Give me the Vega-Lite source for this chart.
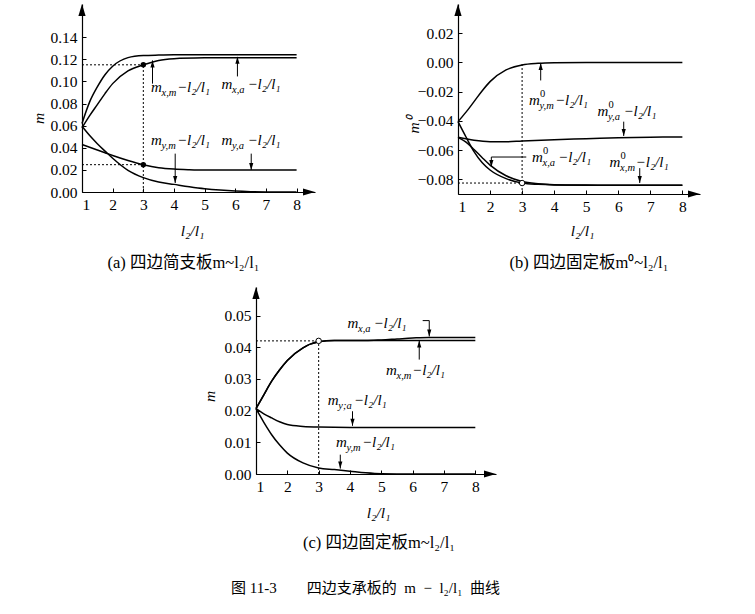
{
  "$schema": "https://vega.github.io/schema/vega-lite/v6.json",
  "background": "white",
  "padding": {"left": 31, "top": 4, "right": 5, "bottom": 5},
  "bounds": "full",
  "spacing": 13,
  "title": {"text": "图 11-3\u2003\u2003四边支承板的\u2002m\u2002−\u2002l₂/l₁\u2002曲线", "orient": "bottom", "anchor": "middle", "offset": 30, "font": "Liberation Serif, Noto Sans CJK SC", "fontSize": 15, "fontWeight": "normal", "color": "black"},
  "datasets": {
    "curves": [
      {"p":"a","s":"A","x":1,"y":0.062},{"p":"a","s":"A","x":1.25,"y":0.0815},{"p":"a","s":"A","x":1.5,"y":0.095},{"p":"a","s":"A","x":1.75,"y":0.106},{"p":"a","s":"A","x":2,"y":0.1137},{"p":"a","s":"A","x":2.5,"y":0.1215},{"p":"a","s":"A","x":3,"y":0.1234},{"p":"a","s":"A","x":3.5,"y":0.1238},{"p":"a","s":"A","x":4,"y":0.124},{"p":"a","s":"A","x":5,"y":0.124},{"p":"a","s":"A","x":6,"y":0.124},{"p":"a","s":"A","x":7,"y":0.124},{"p":"a","s":"A","x":8,"y":0.124},
      {"p":"a","s":"B","x":1,"y":0.058},{"p":"a","s":"B","x":1.25,"y":0.069},{"p":"a","s":"B","x":1.5,"y":0.079},{"p":"a","s":"B","x":1.75,"y":0.089},{"p":"a","s":"B","x":2,"y":0.098},{"p":"a","s":"B","x":2.5,"y":0.1095},{"p":"a","s":"B","x":3,"y":0.115},{"p":"a","s":"B","x":3.5,"y":0.119},{"p":"a","s":"B","x":4,"y":0.1205},{"p":"a","s":"B","x":5,"y":0.1213},{"p":"a","s":"B","x":6,"y":0.1215},{"p":"a","s":"B","x":7,"y":0.1215},{"p":"a","s":"B","x":8,"y":0.1215},
      {"p":"a","s":"C","x":1,"y":0.0594},{"p":"a","s":"C","x":1.25,"y":0.051},{"p":"a","s":"C","x":1.5,"y":0.0437},{"p":"a","s":"C","x":1.75,"y":0.037},{"p":"a","s":"C","x":2,"y":0.0305},{"p":"a","s":"C","x":2.5,"y":0.0196},{"p":"a","s":"C","x":3,"y":0.013},{"p":"a","s":"C","x":3.5,"y":0.009},{"p":"a","s":"C","x":4,"y":0.0069},{"p":"a","s":"C","x":4.5,"y":0.0048},{"p":"a","s":"C","x":5,"y":0.003},{"p":"a","s":"C","x":5.5,"y":0.0017},{"p":"a","s":"C","x":6,"y":0.0008},{"p":"a","s":"C","x":6.5,"y":0.0003},{"p":"a","s":"C","x":7,"y":0.0001},{"p":"a","s":"C","x":8,"y":0},
      {"p":"a","s":"D","x":1,"y":0.043},{"p":"a","s":"D","x":1.5,"y":0.038},{"p":"a","s":"D","x":1.75,"y":0.0355},{"p":"a","s":"D","x":2,"y":0.033},{"p":"a","s":"D","x":2.5,"y":0.0285},{"p":"a","s":"D","x":3,"y":0.0247},{"p":"a","s":"D","x":3.5,"y":0.022},{"p":"a","s":"D","x":4,"y":0.0207},{"p":"a","s":"D","x":4.5,"y":0.0201},{"p":"a","s":"D","x":5,"y":0.0198},{"p":"a","s":"D","x":6,"y":0.0198},{"p":"a","s":"D","x":7,"y":0.0198},{"p":"a","s":"D","x":8,"y":0.0198},
      {"p":"b","s":"Ym","x":1,"y":-0.0405},{"p":"b","s":"Ym","x":1.25,"y":-0.034},{"p":"b","s":"Ym","x":1.5,"y":-0.0268},{"p":"b","s":"Ym","x":1.75,"y":-0.0195},{"p":"b","s":"Ym","x":2,"y":-0.0131},{"p":"b","s":"Ym","x":2.5,"y":-0.0051},{"p":"b","s":"Ym","x":3,"y":-0.0017},{"p":"b","s":"Ym","x":3.5,"y":-0.0006},{"p":"b","s":"Ym","x":4,"y":-0.0002},{"p":"b","s":"Ym","x":5,"y":0},{"p":"b","s":"Ym","x":6,"y":0},{"p":"b","s":"Ym","x":7,"y":0},{"p":"b","s":"Ym","x":8,"y":0},
      {"p":"b","s":"Ya","x":1,"y":-0.0512},{"p":"b","s":"Ya","x":1.5,"y":-0.0532},{"p":"b","s":"Ya","x":2,"y":-0.0542},{"p":"b","s":"Ya","x":2.5,"y":-0.0543},{"p":"b","s":"Ya","x":3,"y":-0.0537},{"p":"b","s":"Ya","x":4,"y":-0.0528},{"p":"b","s":"Ya","x":5,"y":-0.0522},{"p":"b","s":"Ya","x":6,"y":-0.0515},{"p":"b","s":"Ya","x":7,"y":-0.0511},{"p":"b","s":"Ya","x":8,"y":-0.051},
      {"p":"b","s":"E","x":1,"y":-0.0405},{"p":"b","s":"E","x":1.25,"y":-0.051},{"p":"b","s":"E","x":1.5,"y":-0.061},{"p":"b","s":"E","x":1.75,"y":-0.0685},{"p":"b","s":"E","x":2,"y":-0.0736},{"p":"b","s":"E","x":2.5,"y":-0.0795},{"p":"b","s":"E","x":3,"y":-0.0825},{"p":"b","s":"E","x":3.5,"y":-0.0834},{"p":"b","s":"E","x":4,"y":-0.0838},{"p":"b","s":"E","x":5,"y":-0.084},{"p":"b","s":"E","x":6,"y":-0.084},{"p":"b","s":"E","x":7,"y":-0.084},{"p":"b","s":"E","x":8,"y":-0.084},
      {"p":"b","s":"F","x":1,"y":-0.0512},{"p":"b","s":"F","x":1.25,"y":-0.0545},{"p":"b","s":"F","x":1.5,"y":-0.0595},{"p":"b","s":"F","x":1.75,"y":-0.065},{"p":"b","s":"F","x":2,"y":-0.0702},{"p":"b","s":"F","x":2.5,"y":-0.0775},{"p":"b","s":"F","x":3,"y":-0.0815},{"p":"b","s":"F","x":3.5,"y":-0.083},{"p":"b","s":"F","x":4,"y":-0.0836},{"p":"b","s":"F","x":5,"y":-0.0839},{"p":"b","s":"F","x":6,"y":-0.084},{"p":"b","s":"F","x":7,"y":-0.084},{"p":"b","s":"F","x":8,"y":-0.084},
      {"p":"c","s":"Xm","x":1,"y":0.0206},{"p":"c","s":"Xm","x":1.25,"y":0.025},{"p":"c","s":"Xm","x":1.5,"y":0.0293},{"p":"c","s":"Xm","x":1.75,"y":0.0328},{"p":"c","s":"Xm","x":2,"y":0.0358},{"p":"c","s":"Xm","x":2.5,"y":0.0398},{"p":"c","s":"Xm","x":3,"y":0.0417},{"p":"c","s":"Xm","x":3.5,"y":0.0421},{"p":"c","s":"Xm","x":4,"y":0.0421},{"p":"c","s":"Xm","x":5,"y":0.0421},{"p":"c","s":"Xm","x":6,"y":0.0421},{"p":"c","s":"Xm","x":7,"y":0.0421},{"p":"c","s":"Xm","x":8,"y":0.0421},
      {"p":"c","s":"Xa","x":1,"y":0.0206},{"p":"c","s":"Xa","x":1.25,"y":0.025},{"p":"c","s":"Xa","x":1.5,"y":0.0293},{"p":"c","s":"Xa","x":1.75,"y":0.0328},{"p":"c","s":"Xa","x":2,"y":0.0358},{"p":"c","s":"Xa","x":2.5,"y":0.0398},{"p":"c","s":"Xa","x":3,"y":0.0417},{"p":"c","s":"Xa","x":3.5,"y":0.0421},{"p":"c","s":"Xa","x":4,"y":0.0421},{"p":"c","s":"Xa","x":4.5,"y":0.0421},{"p":"c","s":"Xa","x":5,"y":0.0423},{"p":"c","s":"Xa","x":5.5,"y":0.0426},{"p":"c","s":"Xa","x":6,"y":0.0429},{"p":"c","s":"Xa","x":6.5,"y":0.0431},{"p":"c","s":"Xa","x":7,"y":0.0431},{"p":"c","s":"Xa","x":8,"y":0.0431},
      {"p":"c","s":"Ya","x":1,"y":0.0206},{"p":"c","s":"Ya","x":1.25,"y":0.019},{"p":"c","s":"Ya","x":1.5,"y":0.0177},{"p":"c","s":"Ya","x":1.75,"y":0.0165},{"p":"c","s":"Ya","x":2,"y":0.0156},{"p":"c","s":"Ya","x":2.5,"y":0.015},{"p":"c","s":"Ya","x":3,"y":0.0148},{"p":"c","s":"Ya","x":4,"y":0.0147},{"p":"c","s":"Ya","x":5,"y":0.0147},{"p":"c","s":"Ya","x":6,"y":0.0147},{"p":"c","s":"Ya","x":7,"y":0.0147},{"p":"c","s":"Ya","x":8,"y":0.0147},
      {"p":"c","s":"Ym","x":1,"y":0.0206},{"p":"c","s":"Ym","x":1.25,"y":0.0163},{"p":"c","s":"Ym","x":1.5,"y":0.0124},{"p":"c","s":"Ym","x":1.75,"y":0.0092},{"p":"c","s":"Ym","x":2,"y":0.0066},{"p":"c","s":"Ym","x":2.5,"y":0.0035},{"p":"c","s":"Ym","x":3,"y":0.0019},{"p":"c","s":"Ym","x":3.5,"y":0.0014},{"p":"c","s":"Ym","x":4,"y":0.0009},{"p":"c","s":"Ym","x":4.5,"y":0.0004},{"p":"c","s":"Ym","x":5,"y":0.0001},{"p":"c","s":"Ym","x":6,"y":0},{"p":"c","s":"Ym","x":7,"y":0},{"p":"c","s":"Ym","x":8,"y":0}
    ],
    "guides": [
      {"p":"a","x":3,"x2":3,"y":0,"y2":0.115},{"p":"a","x":1,"x2":3,"y":0.115,"y2":0.115},{"p":"a","x":1,"x2":3,"y":0.0247,"y2":0.0247},
      {"p":"b","x":3,"x2":3,"y":-0.09,"y2":0},{"p":"b","x":1,"x2":3,"y":-0.0825,"y2":-0.0825},
      {"p":"c","x":3,"x2":3,"y":0,"y2":0.042},{"p":"c","x":1,"x2":3,"y":0.042,"y2":0.042}
    ],
    "dots": [
      {"p":"a","x":3,"y":0.115},{"p":"a","x":3,"y":0.0247},
      {"p":"b","x":3,"y":-0.0825},
      {"p":"c","x":3,"y":0.042}
    ],
    "notes": [
      {"p":"a","x":3.25,"y":0.0905,"sub":"x,m"},{"p":"a","x":5.55,"y":0.0927,"sub":"x,a"},{"p":"a","x":3.25,"y":0.0423,"sub":"y,m"},{"p":"a","x":5.55,"y":0.0423,"sub":"y,a"},
      {"p":"b","x":3.215,"y":-0.0291,"sub":"y,m"},{"p":"b","x":5.35,"y":-0.0364,"sub":"y,a"},{"p":"b","x":3.31,"y":-0.0684,"sub":"x,a"},{"p":"b","x":5.73,"y":-0.0718,"sub":"x,m"},
      {"p":"c","x":3.92,"y":0.0461,"sub":"x,a"},{"p":"c","x":5.15,"y":0.0312,"sub":"x,m"},{"p":"c","x":3.29,"y":0.0217,"sub":"y;a"},{"p":"c","x":3.55,"y":0.0085,"sub":"y,m"}
    ],
    "arrows": [
      {"p":"a","x":3.3,"yt":0.098,"y":0.119,"dir":"up"},{"p":"a","x":6.07,"yt":0.1045,"y":0.1222,"dir":"up"},{"p":"a","x":4.04,"yt":0.0347,"y":0.0081,"dir":"down"},{"p":"a","x":6.52,"yt":0.0347,"y":0.02,"dir":"down"},
      {"p":"b","x":3.58,"yt":-0.0123,"y":-0.0003,"dir":"up"},{"p":"b","x":6.17,"yt":-0.0405,"y":-0.0503,"dir":"down"},{"p":"b","x":2.04,"yt":-0.0647,"y":-0.0715,"dir":"down"},{"p":"b","x":6.67,"yt":-0.0723,"y":-0.0825,"dir":"down"},
      {"p":"c","x":6.53,"yt":0.0484,"y":0.0434,"dir":"down"},{"p":"c","x":6.21,"yt":0.0361,"y":0.0421,"dir":"up"},{"p":"c","x":4.08,"yt":0.0198,"y":0.0152,"dir":"down"},{"p":"c","x":3.69,"yt":0.0061,"y":0.0017,"dir":"down"}
    ],
    "leaders": [
      {"p":"b","x":2.04,"x2":3.13,"y":-0.0647},
      {"p":"c","x":6.32,"x2":6.53,"y":0.0484}
    ],
    "axisArrows": [
      {"p":"a","x":8.6,"y":0,"dir":"right"},{"p":"a","x":1,"y":0.17,"dir":"up"},
      {"p":"b","x":8.55,"y":-0.09,"dir":"right"},{"p":"b","x":1,"y":0.04,"dir":"up"},
      {"p":"c","x":8.66,"y":0,"dir":"right"},{"p":"c","x":1,"y":0.059,"dir":"up"}
    ]
  },
  "vconcat": [
    {
      "bounds": "flush",
      "spacing": 143,
      "hconcat": [
        {
          "width": 233, "height": 188,
          "title": {"text": "(a) 四边简支板m~l₂/l₁", "orient": "bottom", "dx": -15, "offset": 16},
          "encoding": {
            "x": {"field": "x", "type": "quantitative", "scale": {"domain": [1, 8.6], "nice": false, "zero": false}, "axis": {"values": [1,2,3,4,5,6,7,8], "format": "d", "title": "l₂/l₁", "titleX": 110, "titleY": 43, "titleBaseline": "alphabetic"}},
            "y": {"field": "y", "type": "quantitative", "scale": {"domain": [0, 0.17], "nice": false, "zero": false}, "axis": {"values": [0,0.02,0.04,0.06,0.08,0.1,0.12,0.14], "format": ".2f", "title": "m", "titleX": -44, "titleY": 114, "titleBaseline": "middle"}}
          },
          "layer": [
            {"data": {"name": "curves"}, "transform": [{"filter": "datum.p === 'a'"}],
             "mark": {"type": "line", "interpolate": "monotone", "color": "black", "strokeWidth": 1.5},
             "encoding": {"detail": {"field": "s"}}},
            {"data": {"name": "guides"}, "transform": [{"filter": "datum.p === 'a'"}],
             "mark": {"type": "rule", "color": "black", "strokeWidth": 1, "strokeDash": [2, 2]},
             "encoding": {"x2": {"field": "x2"}, "y2": {"field": "y2"}}},
            {"data": {"name": "dots"}, "transform": [{"filter": "datum.p === 'a'"}],
             "mark": {"type": "point", "filled": true, "color": "black", "size": 30, "opacity": 1},
             "encoding": {}},
            {"data": {"name": "arrows"}, "transform": [{"filter": "datum.p === 'a'"}],
             "mark": {"type": "rule", "color": "black", "strokeWidth": 1},
             "encoding": {"y2": {"field": "yt"}}},
            {"data": {"name": "arrows"}, "transform": [{"filter": "datum.p === 'a'"}],
             "mark": {"type": "point", "filled": true, "color": "black", "size": 196, "opacity": 1, "strokeWidth": 0},
             "encoding": {"shape": {"field": "dir", "type": "nominal", "legend": null, "scale": {"domain": ["up", "down", "right"], "range": ["M0,0L-0.3,1L0.3,1Z", "M0,0L-0.3,-1L0.3,-1Z", "M0,0L-1,-0.3L-1,0.3Z"]}}}},
            {"data": {"name": "axisArrows"}, "transform": [{"filter": "datum.p === 'a'"}],
             "mark": {"type": "point", "filled": true, "color": "black", "size": 576, "opacity": 1, "strokeWidth": 0, "clip": false},
             "encoding": {"shape": {"field": "dir", "type": "nominal", "legend": null, "scale": {"domain": ["up", "down", "right"], "range": ["M0,0L-0.3,1L0.3,1Z", "M0,0L-0.3,-1L0.3,-1Z", "M0,0L-1,-0.3L-1,0.3Z"]}}}},
            {"data": {"name": "notes"}, "transform": [{"filter": "datum.p === 'a'"}],
             "mark": {"type": "text", "text": "m", "align": "left", "baseline": "alphabetic", "font": "Liberation Serif", "fontStyle": "italic", "fontSize": 15, "color": "black"},
             "encoding": {}},
            {"data": {"name": "notes"}, "transform": [{"filter": "datum.p === 'a'"}],
             "mark": {"type": "text", "align": "left", "baseline": "alphabetic", "font": "Liberation Serif", "fontStyle": "italic", "fontSize": 10.5, "dx": 10.5, "dy": 4, "color": "black"},
             "encoding": {"text": {"field": "sub"}}},
            {"data": {"name": "notes"}, "transform": [{"filter": "datum.p === 'a'"}],
             "mark": {"type": "text", "text": "−l₂/l₁", "align": "left", "baseline": "alphabetic", "font": "Liberation Serif", "fontStyle": "italic", "fontSize": 15, "dx": 26, "color": "black"},
             "encoding": {}}
          ]
        },
        {
          "width": 242, "height": 190,
          "title": {"text": "(b) 四边固定板m⁰~l₂/l₁", "orient": "bottom", "dx": 10, "offset": 16},
          "encoding": {
            "x": {"field": "x", "type": "quantitative", "scale": {"domain": [1, 8.55], "nice": false, "zero": false}, "axis": {"values": [1,2,3,4,5,6,7,8], "format": "d", "title": "l₂/l₁", "titleX": 124, "titleY": 41, "titleBaseline": "alphabetic"}},
            "y": {"field": "y", "type": "quantitative", "scale": {"domain": [-0.09, 0.04], "nice": false, "zero": false}, "axis": {"values": [-0.08,-0.06,-0.04,-0.02,0,0.02], "format": ".2f", "title": "m⁰", "titleX": -45, "titleY": 121, "titleBaseline": "middle"}}
          },
          "layer": [
            {"data": {"name": "curves"}, "transform": [{"filter": "datum.p === 'b'"}],
             "mark": {"type": "line", "interpolate": "monotone", "color": "black", "strokeWidth": 1.5},
             "encoding": {"detail": {"field": "s"}}},
            {"data": {"name": "guides"}, "transform": [{"filter": "datum.p === 'b'"}],
             "mark": {"type": "rule", "color": "black", "strokeWidth": 1, "strokeDash": [2, 2]},
             "encoding": {"x2": {"field": "x2"}, "y2": {"field": "y2"}}},
            {"data": {"name": "leaders"}, "transform": [{"filter": "datum.p === 'b'"}],
             "mark": {"type": "rule", "color": "black", "strokeWidth": 1},
             "encoding": {"x2": {"field": "x2"}}},
            {"data": {"name": "dots"}, "transform": [{"filter": "datum.p === 'b'"}],
             "mark": {"type": "point", "filled": true, "fill": "white", "stroke": "black", "strokeWidth": 1, "size": 30, "opacity": 1},
             "encoding": {}},
            {"data": {"name": "arrows"}, "transform": [{"filter": "datum.p === 'b'"}],
             "mark": {"type": "rule", "color": "black", "strokeWidth": 1},
             "encoding": {"y2": {"field": "yt"}}},
            {"data": {"name": "arrows"}, "transform": [{"filter": "datum.p === 'b'"}],
             "mark": {"type": "point", "filled": true, "color": "black", "size": 196, "opacity": 1, "strokeWidth": 0},
             "encoding": {"shape": {"field": "dir", "type": "nominal", "legend": null, "scale": {"domain": ["up", "down", "right"], "range": ["M0,0L-0.3,1L0.3,1Z", "M0,0L-0.3,-1L0.3,-1Z", "M0,0L-1,-0.3L-1,0.3Z"]}}}},
            {"data": {"name": "axisArrows"}, "transform": [{"filter": "datum.p === 'b'"}],
             "mark": {"type": "point", "filled": true, "color": "black", "size": 576, "opacity": 1, "strokeWidth": 0, "clip": false},
             "encoding": {"shape": {"field": "dir", "type": "nominal", "legend": null, "scale": {"domain": ["up", "down", "right"], "range": ["M0,0L-0.3,1L0.3,1Z", "M0,0L-0.3,-1L0.3,-1Z", "M0,0L-1,-0.3L-1,0.3Z"]}}}},
            {"data": {"name": "notes"}, "transform": [{"filter": "datum.p === 'b'"}],
             "mark": {"type": "text", "text": "m", "align": "left", "baseline": "alphabetic", "font": "Liberation Serif", "fontStyle": "italic", "fontSize": 15, "color": "black"},
             "encoding": {}},
            {"data": {"name": "notes"}, "transform": [{"filter": "datum.p === 'b'"}],
             "mark": {"type": "text", "text": "0", "align": "left", "baseline": "alphabetic", "font": "Liberation Serif", "fontSize": 10.5, "dx": 11, "dy": -8, "color": "black"},
             "encoding": {}},
            {"data": {"name": "notes"}, "transform": [{"filter": "datum.p === 'b'"}],
             "mark": {"type": "text", "align": "left", "baseline": "alphabetic", "font": "Liberation Serif", "fontStyle": "italic", "fontSize": 10.5, "dx": 10.5, "dy": 4, "color": "black"},
             "encoding": {"text": {"field": "sub"}}},
            {"data": {"name": "notes"}, "transform": [{"filter": "datum.p === 'b'"}],
             "mark": {"type": "text", "text": "−l₂/l₁", "align": "left", "baseline": "alphabetic", "font": "Liberation Serif", "fontStyle": "italic", "fontSize": 15, "dx": 26, "color": "black"},
             "encoding": {}}
          ]
        }
      ]
    },
    {
      "bounds": "flush",
      "spacing": 143,
      "hconcat": [
        {
          "width": 31, "height": 1,
          "data": {"values": [{"k": 0}]},
          "mark": {"type": "point", "opacity": 0},
          "encoding": {}
        },
        {
          "width": 240, "height": 187,
          "title": {"text": "(c) 四边固定板m~l₂/l₁", "orient": "bottom", "dx": 3, "offset": 14},
          "encoding": {
            "x": {"field": "x", "type": "quantitative", "scale": {"domain": [1, 8.66], "nice": false, "zero": false}, "axis": {"values": [1,2,3,4,5,6,7,8], "format": "d", "title": "l₂/l₁", "titleX": 122, "titleY": 43, "titleBaseline": "alphabetic"}},
            "y": {"field": "y", "type": "quantitative", "scale": {"domain": [0, 0.059], "nice": false, "zero": false}, "axis": {"values": [0,0.01,0.02,0.03,0.04,0.05], "format": ".2f", "title": "m", "titleX": -47, "titleY": 109, "titleBaseline": "middle"}}
          },
          "layer": [
            {"data": {"name": "curves"}, "transform": [{"filter": "datum.p === 'c'"}],
             "mark": {"type": "line", "interpolate": "monotone", "color": "black", "strokeWidth": 1.5},
             "encoding": {"detail": {"field": "s"}}},
            {"data": {"name": "guides"}, "transform": [{"filter": "datum.p === 'c'"}],
             "mark": {"type": "rule", "color": "black", "strokeWidth": 1, "strokeDash": [2, 2]},
             "encoding": {"x2": {"field": "x2"}, "y2": {"field": "y2"}}},
            {"data": {"name": "leaders"}, "transform": [{"filter": "datum.p === 'c'"}],
             "mark": {"type": "rule", "color": "black", "strokeWidth": 1},
             "encoding": {"x2": {"field": "x2"}}},
            {"data": {"name": "dots"}, "transform": [{"filter": "datum.p === 'c'"}],
             "mark": {"type": "point", "filled": true, "fill": "white", "stroke": "black", "strokeWidth": 1, "size": 30, "opacity": 1},
             "encoding": {}},
            {"data": {"name": "arrows"}, "transform": [{"filter": "datum.p === 'c'"}],
             "mark": {"type": "rule", "color": "black", "strokeWidth": 1},
             "encoding": {"y2": {"field": "yt"}}},
            {"data": {"name": "arrows"}, "transform": [{"filter": "datum.p === 'c'"}],
             "mark": {"type": "point", "filled": true, "color": "black", "size": 196, "opacity": 1, "strokeWidth": 0},
             "encoding": {"shape": {"field": "dir", "type": "nominal", "legend": null, "scale": {"domain": ["up", "down", "right"], "range": ["M0,0L-0.3,1L0.3,1Z", "M0,0L-0.3,-1L0.3,-1Z", "M0,0L-1,-0.3L-1,0.3Z"]}}}},
            {"data": {"name": "axisArrows"}, "transform": [{"filter": "datum.p === 'c'"}],
             "mark": {"type": "point", "filled": true, "color": "black", "size": 576, "opacity": 1, "strokeWidth": 0, "clip": false},
             "encoding": {"shape": {"field": "dir", "type": "nominal", "legend": null, "scale": {"domain": ["up", "down", "right"], "range": ["M0,0L-0.3,1L0.3,1Z", "M0,0L-0.3,-1L0.3,-1Z", "M0,0L-1,-0.3L-1,0.3Z"]}}}},
            {"data": {"name": "notes"}, "transform": [{"filter": "datum.p === 'c'"}],
             "mark": {"type": "text", "text": "m", "align": "left", "baseline": "alphabetic", "font": "Liberation Serif", "fontStyle": "italic", "fontSize": 15, "color": "black"},
             "encoding": {}},
            {"data": {"name": "notes"}, "transform": [{"filter": "datum.p === 'c'"}],
             "mark": {"type": "text", "align": "left", "baseline": "alphabetic", "font": "Liberation Serif", "fontStyle": "italic", "fontSize": 10.5, "dx": 10.5, "dy": 4, "color": "black"},
             "encoding": {"text": {"field": "sub"}}},
            {"data": {"name": "notes"}, "transform": [{"filter": "datum.p === 'c'"}],
             "mark": {"type": "text", "text": "−l₂/l₁", "align": "left", "baseline": "alphabetic", "font": "Liberation Serif", "fontStyle": "italic", "fontSize": 15, "dx": 26, "color": "black"},
             "encoding": {}}
          ]
        }
      ]
    }
  ],
  "config": {
    "view": {"stroke": null},
    "font": "Liberation Serif",
    "title": {"font": "Liberation Serif, Noto Sans CJK SC", "fontSize": 16.5, "fontWeight": "normal", "color": "black"},
    "axis": {
      "grid": false,
      "domainColor": "black",
      "domainWidth": 1.2,
      "tickColor": "black",
      "tickSize": -4,
      "tickWidth": 1,
      "labelColor": "black",
      "labelFont": "Liberation Serif",
      "labelFontSize": 15.5,
      "labelPadding": 9,
      "titleFont": "Liberation Serif",
      "titleFontStyle": "italic",
      "titleFontWeight": "normal",
      "titleFontSize": 15.5,
      "titleColor": "black"
    }
  }
}
